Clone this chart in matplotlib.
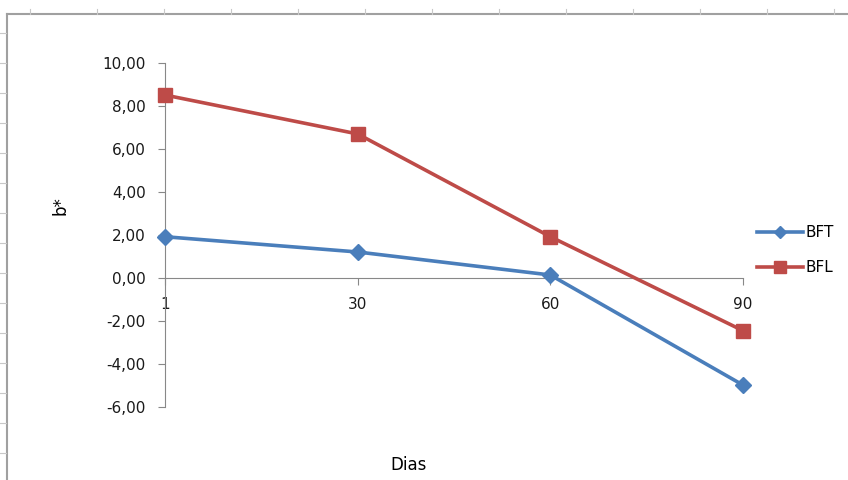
import matplotlib
matplotlib.use("Agg")
import matplotlib.pyplot as plt
from matplotlib.lines import Line2D

categories = ["1", "30", "60", "90"]
bft = [1.92, 1.21, 0.14, -4.98]
bfl = [8.51, 6.70, 1.92, -2.45]
yticks = [-6, -4, -2, 0, 2, 4, 6, 8, 10]
ytick_labels = ["-6,00", "-4,00", "-2,00", "0,00", "2,00", "4,00", "6,00", "8,00", "10,00"]

W, H = 848, 480
fig = plt.figure(figsize=(W / 100, H / 100), dpi=100)
fig.patch.set_facecolor("white")

# spreadsheet frame around the chart
gray = "#a0a0a0"
fig.add_artist(Line2D([7 / W, 7 / W], [0, 1 - 14 / H], color=gray, lw=1.5, transform=fig.transFigure))
fig.add_artist(Line2D([7 / W, 1], [1 - 14 / H, 1 - 14 / H], color=gray, lw=1.5, transform=fig.transFigure))
for x in range(30, 848, 67):
    fig.add_artist(Line2D([x / W, x / W], [1 - 14 / H, 1 - 9 / H], color="#c8c8c8", lw=0.8, transform=fig.transFigure))
for y in range(33, 480, 30):
    fig.add_artist(Line2D([0, 6 / W], [1 - y / H, 1 - y / H], color="#c8c8c8", lw=0.8, transform=fig.transFigure))

left, right, top, bottom = 165, 743, 63, 407
ax = fig.add_axes([left / W, 1 - bottom / H, (right - left) / W, (bottom - top) / H])
xs = list(range(len(categories)))

ax.plot(xs, bft, color="#4A7EBB", lw=2.6, marker="D", markersize=8, label="BFT", clip_on=False, zorder=3)
ax.plot(xs, bfl, color="#BE4B48", lw=2.6, marker="s", markersize=10, label="BFL", clip_on=False, zorder=3)

ax.set_xlim(0, 3)
ax.set_ylim(-6, 10)
ax.set_yticks(yticks)
ax.set_yticklabels(ytick_labels)
ax.set_xticks(xs)
ax.set_xticklabels(categories)

for s in ["top", "right"]:
    ax.spines[s].set_visible(False)
ax.spines["left"].set_color("#888888")
ax.spines["bottom"].set_color("#888888")
ax.spines["bottom"].set_position(("data", 0))
ax.tick_params(axis="y", direction="out", length=5, color="#888888", labelsize=11, pad=9, labelcolor="#1a1a1a")
ax.tick_params(axis="x", direction="out", length=5, color="#888888", labelsize=11, pad=9, labelcolor="#1a1a1a")

ax.set_ylabel("b*", fontsize=12)
ax.yaxis.set_label_coords(-0.165, 0.587)
fig.text(409 / W, 1 - 465 / H, "Dias", fontsize=12, ha="center", va="center")

leg = ax.legend(loc="center left", bbox_to_anchor=(743 / W, 1 - 250 / H), bbox_transform=fig.transFigure,
                frameon=False, fontsize=11, handlelength=3.0, labelspacing=1.3, handletextpad=0.2,
                markerscale=0.8)

fig.savefig("out.png", dpi=100, facecolor="white")
